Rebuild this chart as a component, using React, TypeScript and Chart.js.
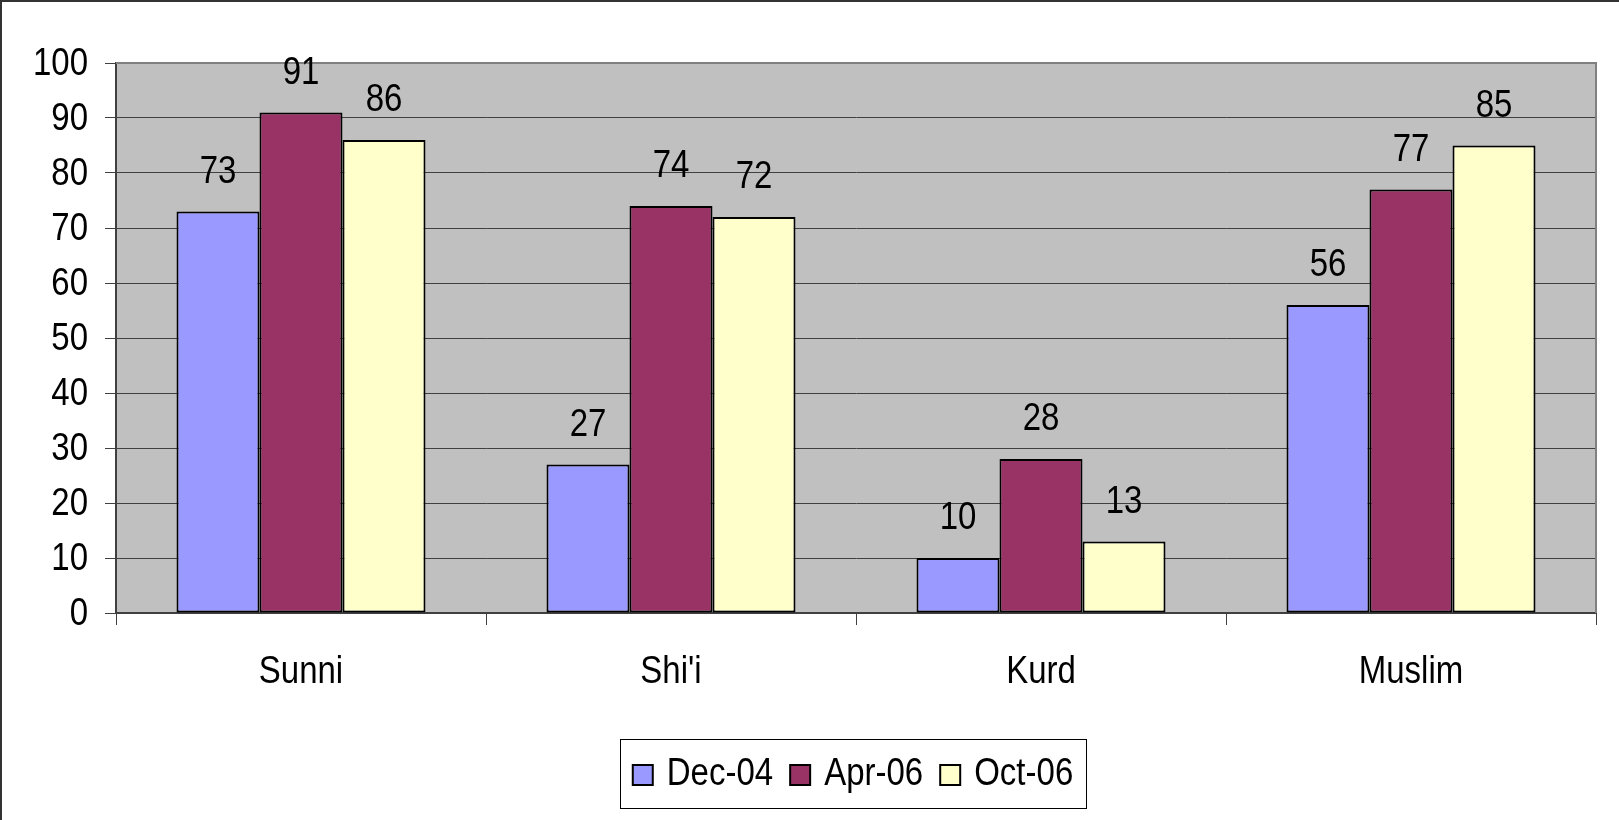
import React, { useEffect, useRef } from "react";
import { Chart, registerables } from "chart.js";

Chart.register(...registerables);

const categories = ["Sunni", "Shi'i", "Kurd", "Muslim"];
const seriesNames = ["Dec-04", "Apr-06", "Oct-06"];
const dec04 = [73, 27, 10, 56];
const apr06 = [91, 74, 28, 77];
const oct06 = [86, 72, 13, 85];
const seriesColors = ["#9999FF", "#993366", "#FFFFCC"];
const yTicks = [0, 10, 20, 30, 40, 50, 60, 70, 80, 90, 100];

const FONT = "'Liberation Sans', Arial, sans-serif";
const FS = 33;
const SY = 1.17; // the reference text is taller than it is wide

function stretchedText(ctx: CanvasRenderingContext2D, text: string, x: number, baseline: number, align: CanvasTextAlign) {
  ctx.save();
  ctx.translate(x, baseline);
  ctx.scale(1, SY);
  ctx.textAlign = align;
  ctx.textBaseline = "alphabetic";
  ctx.fillText(text, 0, 0);
  ctx.restore();
}

const framePlugin = {
  id: "framePlugin",
  beforeDraw(chart: any) {
    const { ctx, chartArea } = chart;
    ctx.save();
    ctx.fillStyle = "#ffffff";
    ctx.fillRect(0, 0, chart.width, chart.height);
    ctx.fillStyle = "#C0C0C0";
    ctx.fillRect(chartArea.left, chartArea.top, chartArea.right - chartArea.left, chartArea.bottom - chartArea.top);
    ctx.strokeStyle = "#333333";
    ctx.lineWidth = 2;
    ctx.beginPath();
    ctx.moveTo(1, chart.height + 5);
    ctx.lineTo(1, 1);
    ctx.lineTo(chart.width + 5, 1);
    ctx.stroke();
    ctx.restore();
  },
  beforeDatasetsDraw(chart: any) {
    const { ctx, chartArea } = chart;
    ctx.save();
    ctx.strokeStyle = "#808080";
    ctx.lineWidth = 2;
    ctx.beginPath();
    ctx.moveTo(chartArea.left, chartArea.top);
    ctx.lineTo(chartArea.right, chartArea.top);
    ctx.lineTo(chartArea.right, chartArea.bottom);
    ctx.stroke();
    ctx.restore();
  },
  afterDatasetsDraw(chart: any) {
    const { ctx } = chart;
    ctx.save();
    ctx.font = `${FS}px ${FONT}`;
    ctx.fillStyle = "#000000";
    chart.data.datasets.forEach((ds: any, di: number) => {
      const meta = chart.getDatasetMeta(di);
      meta.data.forEach((el: any, i: number) => {
        stretchedText(ctx, String(ds.data[i]), el.x, el.y - 29, "center");
      });
    });
    ctx.restore();
  },
  afterDraw(chart: any) {
    const { ctx, chartArea } = chart;
    const xScale = chart.scales.x;
    const yScale = chart.scales.y;
    ctx.save();
    ctx.font = `${FS}px ${FONT}`;
    ctx.fillStyle = "#000000";
    // y tick labels
    yScale.ticks.forEach((t: any) => {
      const y = yScale.getPixelForValue(t.value);
      stretchedText(ctx, String(t.label), chartArea.left - 28, y + 12, "right");
    });
    // category labels
    xScale.ticks.forEach((t: any, i: number) => {
      const x = xScale.getPixelForTick(i);
      stretchedText(ctx, String(t.label), x, chartArea.bottom + 69.5, "center");
    });
    // legend
    const items = chart.data.datasets.map((ds: any) => ({ text: ds.label, color: ds.backgroundColor }));
    const box = 20, gapText = 14, gapItem = 17, pad = 13;
    const widths = items.map((it: any) => ctx.measureText(it.text).width);
    const total = widths.reduce((a: number, w: number) => a + box + gapText + w, 0) + gapItem * (items.length - 1);
    const center = (chartArea.left + chartArea.right) / 2 - 3;
    let x = center - total / 2;
    const baseline = chartArea.bottom + 172;
    ctx.strokeStyle = "#000000";
    ctx.lineWidth = 1;
    ctx.strokeRect(Math.round(x - pad) + 0.5, Math.round(baseline - 46) + 0.5, Math.round(total + 2 * pad), 69);
    items.forEach((it: any, i: number) => {
      ctx.fillStyle = it.color;
      ctx.fillRect(x, baseline - box, box, box);
      ctx.strokeStyle = "#000000";
      ctx.lineWidth = 2;
      ctx.strokeRect(x, baseline - box, box, box);
      ctx.fillStyle = "#000000";
      stretchedText(ctx, it.text, x + box + gapText, baseline, "left");
      x += box + gapText + widths[i] + gapItem;
    });
    ctx.restore();
  },
};

export default function App() {
  const ref = useRef<HTMLCanvasElement | null>(null);
  useEffect(() => {
    if (!ref.current) return;
    const data = [dec04, apr06, oct06];
    const chart = new Chart(ref.current, {
      type: "bar",
      data: {
        labels: categories,
        datasets: seriesNames.map((name, i) => ({
          label: name,
          data: data[i],
          backgroundColor: seriesColors[i],
          borderColor: "#000000",
          borderWidth: 2,
          borderSkipped: false,
          categoryPercentage: 0.673,
          barPercentage: 1,
        })),
      },
      plugins: [framePlugin],
      options: {
        responsive: false,
        animation: false,
        devicePixelRatio: 1,
        layout: { padding: { left: 0, right: 23, top: 63, bottom: 0 } },
        plugins: {
          tooltip: { enabled: false },
          legend: { display: false },
        },
        scales: {
          x: {
            offset: true,
            afterFit: (axis: any) => {
              axis.height = 207;
            },
            grid: {
              offset: true,
              drawOnChartArea: false,
              tickLength: 12,
              color: "#404040",
            },
            border: { color: "#404040", width: 2 },
            ticks: {
              color: "rgba(0,0,0,0)",
              font: { size: FS, family: FONT },
            },
          },
          y: {
            min: 0,
            max: 100,
            afterBuildTicks: (axis: any) => {
              axis.ticks = yTicks.map((v) => ({ value: v }));
            },
            afterFit: (axis: any) => {
              axis.width = 116;
            },
            grid: {
              color: "#404040",
              lineWidth: 1,
              tickLength: 11,
            },
            border: { color: "#404040", width: 2 },
            ticks: {
              color: "rgba(0,0,0,0)",
              padding: 16,
              font: { size: FS, family: FONT },
            },
          },
        },
      },
    });
    return () => chart.destroy();
  }, []);
  return (
    <div style={{ position: "fixed", left: 0, top: 0, width: 1619, height: 820, background: "#fff" }}>
      <canvas ref={ref} width={1619} height={820} style={{ display: "block" }} />
    </div>
  );
}
